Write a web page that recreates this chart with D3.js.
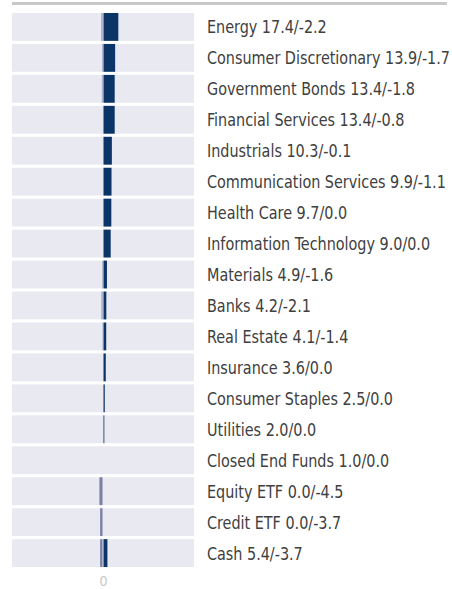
<!DOCTYPE html>
<html>
<head>
<meta charset="utf-8">
<script src="https://d3js.org/d3.v7.min.js"></script>
<style>
  body { margin: 0; background: #fff; }
</style>
</head>
<body>
<script>
// sectors, long and short exposure
const sectors = ["Energy", "Consumer Discretionary", "Government Bonds", "Financial Services",
  "Industrials", "Communication Services", "Health Care", "Information Technology",
  "Materials", "Banks", "Real Estate", "Insurance", "Consumer Staples", "Utilities",
  "Closed End Funds", "Equity ETF", "Credit ETF", "Cash"];
const longVals  = [17.4, 13.9, 13.4, 13.4, 10.3, 9.9, 9.7, 9.0, 4.9, 4.2, 4.1, 3.6, 2.5, 2.0, 1.0, 0.0, 0.0, 5.4];
const shortVals = [-2.2, -1.7, -1.8, -0.8, -0.1, -1.1, 0.0, 0.0, -1.6, -2.1, -1.4, 0.0, 0.0, 0.0, 0.0, -4.5, -3.7, -3.7];
const xTicks = [0];

const width = 452, height = 589;
const font = "'DejaVu Sans Condensed', 'DejaVu Sans', sans-serif";

const data = sectors.map((s, i) => ({ name: s, pos: longVals[i], neg: shortVals[i] }));

const svg = d3.select("body").append("svg")
  .attr("width", width)
  .attr("height", height);

// top rule
svg.append("line")
  .attr("x1", 12).attr("x2", 447)
  .attr("y1", 3.5).attr("y2", 3.5)
  .attr("stroke", "#c8c8c8")
  .attr("stroke-width", 3);

const x = d3.scaleLinear().domain([-100, 100]).range([12, 194]);
const y = d3.scaleBand().domain(sectors).range([13, 567]).paddingInner(0.1);
const gap = 0.5; // white gap either side of zero

// background bars
svg.append("g").selectAll("rect")
  .data(data).join("rect")
  .attr("x", x(-100))
  .attr("y", d => y(d.name))
  .attr("width", x(100) - x(-100))
  .attr("height", y.bandwidth())
  .attr("fill", "#e9eaf1");

// short bars
svg.append("g").selectAll("rect")
  .data(data.filter(d => d.neg < 0)).join("rect")
  .attr("x", d => x(d.neg) + gap)
  .attr("y", d => y(d.name))
  .attr("width", d => Math.max(0, x(0) - x(d.neg) - 2 * gap))
  .attr("height", y.bandwidth())
  .attr("fill", "#7b80a6");

// long bars
svg.append("g").selectAll("rect")
  .data(data.filter(d => d.pos > 0)).join("rect")
  .attr("x", x(0) + gap)
  .attr("y", d => y(d.name))
  .attr("width", d => Math.max(0, x(d.pos) - x(0) - 2 * gap))
  .attr("height", y.bandwidth())
  .attr("fill", "#0b3567");

// labels (squeezed horizontally to look like a condensed face)
const labels = svg.append("g").selectAll("text")
  .data(data).join("text")
  .attr("font-family", font)
  .attr("font-size", 18)
  .attr("fill", "#404040")
  .attr("dy", "0.36em")
  .text(d => `${d.name} ${d.pos.toFixed(1)}/${d.neg.toFixed(1)}`);

const longest = d3.max(labels.nodes(), n => n.getComputedTextLength());
const k = 243 / longest;
labels.attr("transform", d => `translate(207,${y(d.name) + y.bandwidth() / 2}) scale(${k},1)`);

// axis
const axis = svg.append("g")
  .attr("transform", "translate(0,586)")
  .call(d3.axisBottom(x).tickValues(xTicks).tickSize(0).tickPadding(0));
axis.select(".domain").remove();
axis.selectAll("text")
  .attr("dy", 0)
  .attr("font-family", font)
  .attr("font-size", 14)
  .attr("fill", "#c8c8c8");
</script>
</body>
</html>
